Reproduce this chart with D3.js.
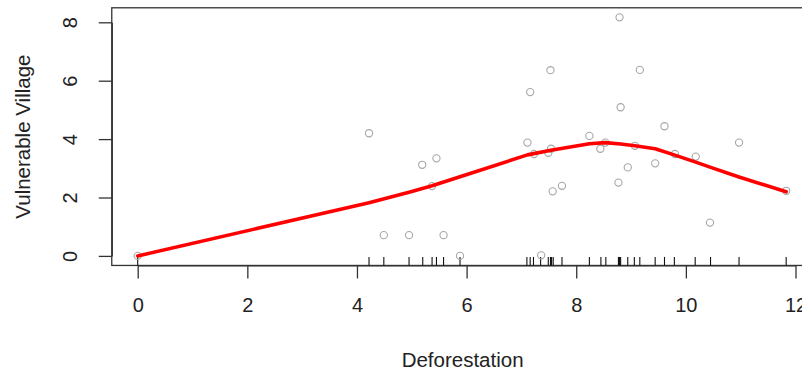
<!DOCTYPE html>
<html>
<head>
<meta charset="utf-8">
<script src="https://cdn.jsdelivr.net/npm/d3@7"></script>
<style>
  html, body { margin: 0; padding: 0; background: #fff; }
  svg { display: block; }
  text { font-family: "Liberation Sans", Arial, sans-serif; fill: #222; }
</style>
</head>
<body>
<svg id="chart" width="802" height="372"></svg>
<script>
// ---- data ----
const pointX = [0, 4.22, 4.49, 4.95, 5.19, 5.37, 5.45, 5.58, 5.88, 7.11, 7.16, 7.23, 7.36, 7.49, 7.53, 7.54, 7.57, 7.74, 8.24, 8.44, 8.53, 8.77, 8.79, 8.81, 8.94, 9.07, 9.16, 9.44, 9.61, 9.80, 10.18, 10.44, 10.97, 11.83];
const pointY = [0, 4.20, 0.71, 0.71, 3.12, 2.39, 3.34, 0.71, 0.00, 3.88, 5.61, 3.49, 0.02, 3.53, 6.36, 3.67, 2.21, 2.40, 4.11, 3.67, 3.88, 2.51, 8.17, 5.09, 3.03, 3.77, 6.37, 3.17, 4.44, 3.49, 3.40, 1.14, 3.88, 2.23];
const rugX = [0, 4.22, 4.49, 4.95, 5.20, 5.37, 5.45, 5.58, 5.88, 7.10, 7.16, 7.22, 7.35, 7.49, 7.53, 7.55, 7.58, 7.74, 8.24, 8.45, 8.54, 8.77, 8.79, 8.81, 8.94, 9.06, 9.16, 9.44, 9.61, 9.79, 10.17, 10.45, 10.97, 11.83];
const curveX = [0, 4.22, 4.95, 5.37, 5.88, 7.11, 7.54, 8.24, 8.53, 8.81, 9.07, 9.44, 9.80, 10.18, 10.44, 10.97, 11.83];
const curveY = [0, 1.82, 2.18, 2.40, 2.71, 3.46, 3.62, 3.84, 3.88, 3.83, 3.77, 3.67, 3.45, 3.21, 3.04, 2.70, 2.20];
const xTicks = [0, 2, 4, 6, 8, 10, 12];
const yTicks = [0, 2, 4, 6, 8];
const xTitle = "Deforestation";
const yTitle = "Vulnerable Village";

// ---- layout ----
const svg = d3.select("#chart");
const x = d3.scaleLinear().domain([0, 12]).range([137.7, 795.5]);
const y = d3.scaleLinear().domain([0, 8]).range([255.9, 22.3]);
const box = { left: x(-0.473), right: x(12.30), top: y(8.497), bottom: y(-0.327) };
const axisColor = "#333";

// box
svg.append("rect")
  .attr("x", box.left).attr("y", box.top)
  .attr("width", box.right - box.left).attr("height", box.bottom - box.top)
  .attr("fill", "none").attr("stroke", axisColor).attr("stroke-width", 1.3);

// x axis
const gx = svg.append("g")
  .attr("transform", `translate(0,${box.bottom})`)
  .call(d3.axisBottom(x).tickValues(xTicks).tickSize(13).tickSizeOuter(0).tickPadding(19));
gx.select(".domain").attr("stroke", axisColor).attr("stroke-width", 1.3);
gx.selectAll(".tick line").attr("stroke", axisColor).attr("stroke-width", 1.3);
gx.selectAll(".tick text").style("font-size", "20px").style("font-family", "'Liberation Sans', Arial, sans-serif").attr("fill", "#222");

// y axis
const gy = svg.append("g")
  .attr("transform", `translate(${box.left},0)`)
  .call(d3.axisLeft(y).tickValues(yTicks).tickSize(13).tickSizeOuter(0));
gy.select(".domain").attr("stroke", axisColor).attr("stroke-width", 1.3);
gy.selectAll(".tick line").attr("stroke", axisColor).attr("stroke-width", 1.3);
gy.selectAll(".tick text")
  .attr("x", null).attr("dy", null)
  .attr("transform", `translate(${77 - box.left},0) rotate(-90)`)
  .attr("text-anchor", "middle")
  .style("font-size", "20px").style("font-family", "'Liberation Sans', Arial, sans-serif").attr("fill", "#222");

// titles
svg.append("text")
  .attr("x", x(6) - 4).attr("y", 366.5)
  .attr("text-anchor", "middle").style("font-size", "20.5px")
  .text(xTitle);
svg.append("text")
  .attr("transform", `translate(30,${(box.top + box.bottom) / 2}) rotate(-90)`)
  .attr("text-anchor", "middle").style("font-size", "20.5px")
  .text(yTitle);

// rug
svg.append("g").selectAll("line").data(rugX).join("line")
  .attr("x1", d => x(d)).attr("x2", d => x(d))
  .attr("y1", box.bottom).attr("y2", box.bottom - 8.5)
  .attr("stroke", "#111").attr("stroke-width", 1.1);

// points
const pts = pointX.map((v, i) => [v, pointY[i]]);
svg.append("g").selectAll("circle").data(pts).join("circle")
  .attr("cx", d => x(d[0])).attr("cy", d => y(d[1]))
  .attr("r", 3.6)
  .attr("fill", "none").attr("stroke", "#a6a6a6").attr("stroke-width", 1.1);

// smooth curve
const curve = curveX.map((v, i) => [v, curveY[i]]);
svg.append("path")
  .datum(curve)
  .attr("d", d3.line().x(d => x(d[0])).y(d => y(d[1])))
  .attr("fill", "none").attr("stroke", "#ff0000").attr("stroke-width", 3.6)
  .attr("stroke-linejoin", "round").attr("stroke-linecap", "round");
</script>
</body>
</html>
